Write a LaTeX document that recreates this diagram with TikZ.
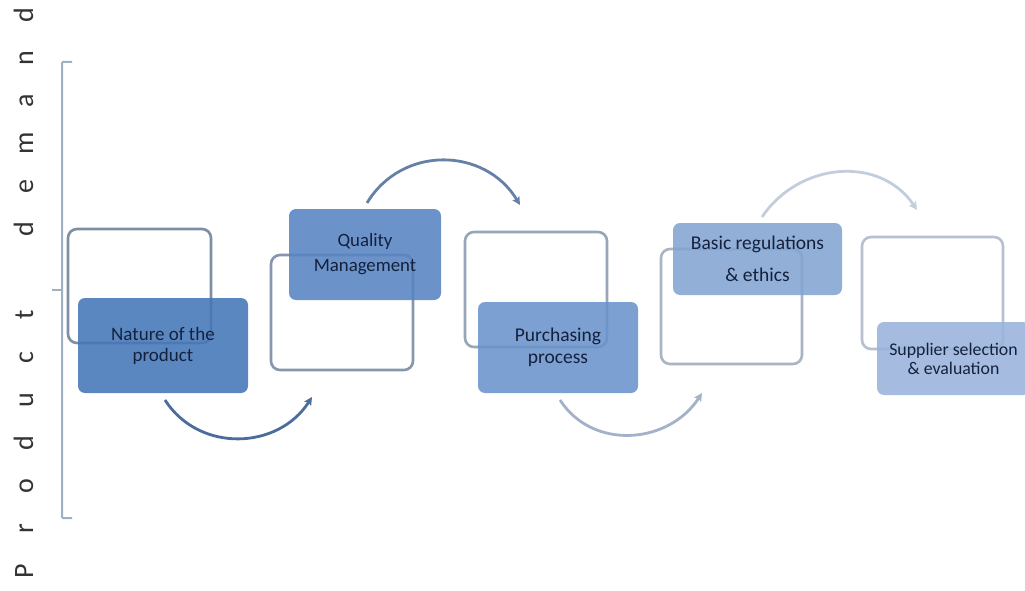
\documentclass[tikz,border=0pt]{standalone}
\usepackage{fontspec}
\setmainfont{Carlito}
\usetikzlibrary{arrows.meta}
\definecolor{txt}{HTML}{14213D}
\definecolor{lett}{HTML}{333333}
\definecolor{brk}{HTML}{9FB0C3}
\definecolor{fA}{HTML}{4577B9}
\definecolor{fB}{HTML}{5784C2}
\definecolor{fC}{HTML}{6A93CB}
\definecolor{fD}{HTML}{83A4D3}
\definecolor{fE}{HTML}{99B3DC}
\definecolor{oA}{HTML}{7D8EA5}
\definecolor{oB}{HTML}{8697AD}
\definecolor{oC}{HTML}{98A6BA}
\definecolor{oD}{HTML}{A9B4C4}
\definecolor{oE}{HTML}{B6C0CE}
\definecolor{aA}{HTML}{4C6D9B}
\definecolor{aB}{HTML}{6681A7}
\definecolor{aC}{HTML}{A3B2C8}
\definecolor{aD}{HTML}{C3CEDD}
\newcommand{\myslot}[1]{\makebox[42.8pt]{#1}}
\begin{document}
\begin{tikzpicture}[x=1pt,y=-1pt,
  outl/.style={draw, line width=2.6pt, rounded corners=9pt, inner sep=0pt},
  boxst/.style={rounded corners=7pt, fill opacity=0.88, text opacity=1, align=center, text=txt, inner sep=0pt},
  arr/.style={line width=2.8pt, -{Stealth[length=8pt,width=8pt,inset=1.5pt]}}]
\useasboundingbox (0,0) rectangle (1025,591);
\fill[white] (0,0) rectangle (1025,591);

% vertical label
\node[rotate=90, anchor=base, inner sep=0pt, text=lett, font=\fontsize{28}{30}\selectfont] (lbl) at (33,293.5)
  {\myslot{P}\myslot{r}\myslot{o}\myslot{d}\myslot{u}\myslot{c}\myslot{t}\myslot{}\myslot{d}\myslot{e}\myslot{m}\myslot{a}\myslot{n}\myslot{d}};

% bracket
\draw[brk, line width=2pt, rounded corners=1pt] (72,62) -- (62,62) -- (62,518) -- (72,518);
\draw[brk, line width=2pt] (52,290) -- (62,290);

% outline frames
\node[outl, draw=oA, minimum width=143pt, minimum height=114pt] (oN) at (139.5,286) {};
\node[outl, draw=oB, minimum width=142pt, minimum height=115pt] (oQ) at (342,312.5) {};
\node[outl, draw=oC, minimum width=142pt, minimum height=115pt] (oP) at (536,289.5) {};
\node[outl, draw=oD, minimum width=141pt, minimum height=115pt] (oB) at (731.5,306.5) {};
\node[outl, draw=oE, minimum width=141pt, minimum height=112pt] (oS) at (932.5,293) {};

% filled boxes
\node[boxst, fill=fA, minimum width=170pt, minimum height=95pt, font=\fontsize{19}{21}\selectfont] (bN) at (163,345.5) {Nature of the\\product};
\node[boxst, fill=fB, minimum width=152pt, minimum height=91pt, font=\fontsize{18.8}{25}\selectfont] (bQ) at (365,254.5) {Quality\\Management};
\node[boxst, fill=fC, minimum width=160pt, minimum height=91pt, font=\fontsize{19.5}{22}\selectfont] (bP) at (558,347.5) {Purchasing\\process};
\node[boxst, fill=fD, minimum width=169pt, minimum height=72pt, font=\fontsize{19.5}{32}\selectfont] (bB) at (757.5,259) {Basic regulations\\\& ethics};
\node[boxst, fill=fE, minimum width=153pt, minimum height=73pt, font=\fontsize{17.8}{19}\selectfont] (bS) at (953.5,358.5) {Supplier selection\\\& evaluation};

% arrow end points
\coordinate (a1s) at (165,400); \coordinate (a1e) at (312,397);
\coordinate (a2s) at (367,203); \coordinate (a2e) at (520,205);
\coordinate (a3s) at (560,400); \coordinate (a3e) at (702,393);
\coordinate (a4s) at (762,217); \coordinate (a4e) at (917,210);

\draw[arr, aA] (a1s) .. controls (199,453) and (278,450) .. (a1e);
\draw[arr, aB] (a2s) .. controls (402,145) and (485,147) .. (a2e);
\draw[arr, aC] (a3s) .. controls (593,451) and (669,444) .. (a3e);
\draw[arr, aD] (a4s) .. controls (799,162) and (880,155) .. (a4e);
\end{tikzpicture}
\end{document}
